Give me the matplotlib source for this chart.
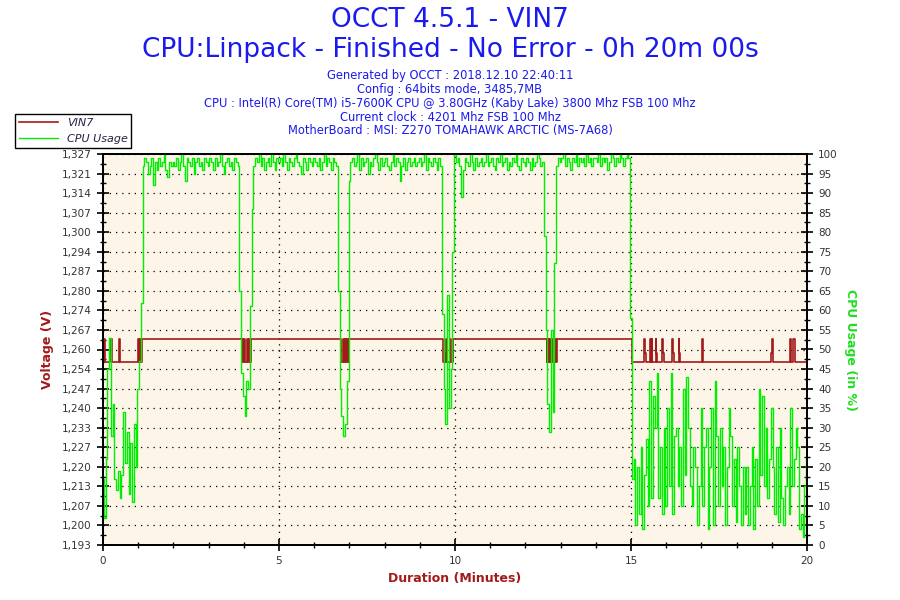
import numpy as np
import matplotlib
matplotlib.use("Agg")
import matplotlib.pyplot as plt
from matplotlib.ticker import MultipleLocator, FixedLocator

# CPU usage (%), one value every 0.05 minute, one row per minute
cpu_rows = [
    [17, 7, 22, 45, 53, 28, 36, 17, 14, 19, 12, 18, 34, 21, 29, 13, 26, 11, 31, 20],
    [40, 47, 62, 97, 99, 98, 95, 97, 99, 92, 98, 96, 99, 97, 98, 100, 96, 94, 98, 97],
    [98, 97, 99, 96, 98, 100, 97, 93, 99, 98, 97, 99, 95, 98, 99, 97, 98, 96, 99, 98],
    [97, 99, 98, 96, 99, 97, 98, 100, 97, 95, 98, 99, 97, 98, 96, 99, 98, 97, 65, 44],
    [38, 33, 42, 40, 61, 86, 97, 99, 98, 100, 97, 99, 96, 98, 99, 97, 100, 98, 96, 99],
    [98, 99, 97, 100, 98, 96, 99, 98, 97, 99, 100, 98, 97, 95, 99, 98, 96, 99, 98, 97],
    [99, 98, 97, 99, 96, 98, 100, 97, 99, 98, 96, 99, 98, 97, 65, 40, 33, 28, 31, 42],
    [93, 98, 99, 97, 98, 100, 96, 99, 97, 98, 99, 95, 98, 97, 99, 100, 98, 96, 99, 97],
    [98, 99, 97, 96, 98, 100, 97, 99, 98, 93, 97, 99, 96, 98, 99, 97, 98, 99, 97, 98],
    [99, 97, 98, 100, 96, 99, 98, 97, 99, 98, 96, 99, 97, 59, 40, 31, 64, 35, 45, 75],
    [100, 98, 99, 97, 89, 96, 99, 98, 97, 100, 98, 96, 99, 97, 98, 99, 97, 98, 100, 97],
    [98, 99, 97, 96, 99, 98, 100, 97, 98, 99, 96, 98, 97, 99, 98, 100, 97, 96, 99, 98],
    [97, 99, 98, 96, 99, 97, 98, 100, 99, 97, 98, 79, 55, 36, 29, 55, 34, 72, 97, 99],
    [98, 99, 100, 97, 99, 98, 96, 99, 98, 100, 97, 99, 98, 99, 97, 100, 98, 99, 97, 99],
    [99, 98, 100, 97, 99, 98, 99, 96, 98, 100, 99, 97, 99, 98, 100, 99, 97, 99, 100, 99],
    [58, 17, 22, 5, 20, 8, 25, 4, 18, 27, 10, 42, 12, 38, 30, 44, 12, 25, 8, 30],
    [10, 35, 15, 44, 8, 28, 30, 15, 25, 10, 40, 18, 43, 30, 15, 10, 25, 20, 5, 15],
    [35, 10, 25, 30, 4, 20, 35, 5, 42, 28, 10, 30, 15, 25, 5, 20, 35, 28, 10, 22],
    [6, 25, 15, 5, 20, 8, 20, 5, 15, 25, 4, 22, 10, 40, 18, 38, 15, 30, 12, 22],
    [35, 20, 8, 25, 6, 30, 12, 5, 15, 20, 8, 35, 15, 22, 30, 25, 4, 8, 2, 15],
]
cpu_last = 22

# VIN7 voltage, change points (minutes, volts), drawn as steps
volt_t = [0.00, 0.02, 0.06, 0.20, 0.25, 0.46, 0.48, 1.00, 1.02, 1.06, 1.08, 1.10,
          3.94, 3.96, 3.98, 4.01, 4.02, 4.10, 4.12, 4.16, 4.17, 4.20,
          6.76, 6.83, 6.84, 6.88, 6.89, 6.93, 6.95, 6.97,
          9.67, 9.71, 9.73, 9.75, 9.76, 9.86, 9.88, 9.93,
          12.60, 12.62, 12.63, 12.66, 12.67, 12.70, 12.72, 12.75, 12.77, 12.80, 12.82, 12.85, 12.86, 12.90,
          15.02, 15.38, 15.40, 15.43, 15.55, 15.57, 15.59, 15.61, 15.70, 15.72, 15.74,
          15.89, 15.91, 15.93, 16.17, 16.19, 16.21, 16.35, 16.37, 16.39,
          17.01, 17.03, 17.05, 18.98, 19.00, 19.03, 19.53, 19.55, 19.61, 19.66, 20.00]
volt_v = [1.256, 1.264, 1.256, 1.264, 1.256, 1.264, 1.256, 1.264, 1.256, 1.264, 1.256, 1.264,
          1.256, 1.264, 1.256, 1.264, 1.256, 1.264, 1.256, 1.264, 1.256, 1.264,
          1.256, 1.264, 1.256, 1.264, 1.256, 1.264, 1.256, 1.264,
          1.256, 1.259, 1.256, 1.264, 1.256, 1.264, 1.256, 1.264,
          1.256, 1.264, 1.256, 1.264, 1.256, 1.264, 1.256, 1.264, 1.256, 1.264, 1.256, 1.264, 1.256, 1.264,
          1.256, 1.264, 1.259, 1.256, 1.264, 1.256, 1.264, 1.256, 1.264, 1.259, 1.256,
          1.264, 1.259, 1.256, 1.264, 1.259, 1.256, 1.264, 1.259, 1.256,
          1.259, 1.264, 1.256, 1.259, 1.264, 1.256, 1.264, 1.256, 1.264, 1.256, 1.256]

volt_labels = ["1,193", "1,200", "1,207", "1,213", "1,220", "1,227", "1,233", "1,240",
               "1,247", "1,254", "1,260", "1,267", "1,274", "1,280", "1,287", "1,294",
               "1,300", "1,307", "1,314", "1,321", "1,327"]
volt_min, volt_max = 1.1933, 1.3273

title1 = "OCCT 4.5.1 - VIN7"
title2 = "CPU:Linpack - Finished - No Error - 0h 20m 00s"
info_lines = ["Generated by OCCT : 2018.12.10 22:40:11",
              "Config : 64bits mode, 3485,7MB",
              "CPU : Intel(R) Core(TM) i5-7600K CPU @ 3.80GHz (Kaby Lake) 3800 Mhz FSB 100 Mhz",
              "Current clock : 4201 Mhz FSB 100 Mhz",
              "MotherBoard : MSI: Z270 TOMAHAWK ARCTIC (MS-7A68)"]

cpu = [v for row in cpu_rows for v in row] + [cpu_last]
cpu_t = np.arange(len(cpu)) * 0.05

red = "#a31a1a"
green = "#00ee00"
blue = "#1a1aee"

fig = plt.figure(figsize=(9, 6), dpi=100)
ax = fig.add_axes([103 / 900, 55 / 600, 704 / 900, 391 / 600])
ax.set_facecolor("#fdf6e8")
ax2 = ax.twinx()

ax.plot(volt_t, volt_v, color=red, lw=1.2, drawstyle="steps-post", label="VIN7")
ax2.plot(cpu_t, cpu, color=green, lw=1.0, drawstyle="steps-mid", label="CPU Usage")

ax.set_xlim(0, 20)
ax.set_ylim(volt_min, volt_max)
ax2.set_ylim(0, 100)

ax.set_yticks(np.linspace(volt_min, volt_max, 21))
ax.set_yticklabels(volt_labels)
ax.yaxis.set_minor_locator(FixedLocator(np.linspace(volt_min, volt_max, 41)))
ax2.yaxis.set_major_locator(MultipleLocator(5))
ax2.yaxis.set_minor_locator(MultipleLocator(2.5))
ax.xaxis.set_major_locator(MultipleLocator(5))
ax.xaxis.set_minor_locator(MultipleLocator(1))

for a in (ax, ax2):
    a.tick_params(which="major", direction="inout", length=9, width=1.2,
                  labelsize=7.5, labelcolor="#333333")
    a.tick_params(which="minor", direction="inout", length=5, width=1)
    for s in a.spines.values():
        s.set_linewidth(1.3)

ax.grid(True, which="major", axis="y", color="black", ls=(0, (1, 4)), lw=0.9)
ax.grid(True, which="major", axis="x", color="black", ls=(0, (1, 4)), lw=0.9)

ax.set_xlabel("Duration (Minutes)", color=red, fontsize=9, fontweight="bold", labelpad=4)
ax.set_ylabel("Voltage (V)", color=red, fontsize=9, fontweight="bold", labelpad=6)
ax2.set_ylabel("CPU Usage (in %)", color="#22dd22", fontsize=9, fontweight="bold",
               rotation=-90, labelpad=14)

fig.text(0.5, 1 - 20 / 600, title1, ha="center", va="center", color=blue, fontsize=19)
fig.text(0.5, 1 - 50 / 600, title2, ha="center", va="center", color=blue, fontsize=19)
for i, line in enumerate(info_lines):
    fig.text(0.5, 1 - (75 + 14 * i) / 600, line, ha="center", va="center",
             color=blue, fontsize=8.3)

h1, l1 = ax.get_legend_handles_labels()
h2, l2 = ax2.get_legend_handles_labels()
leg = fig.legend(h1 + h2, l1 + l2, loc="upper left", bbox_to_anchor=(15 / 900, 1 - 114 / 600),
                 fancybox=False, framealpha=1, edgecolor="black", fontsize=8,
                 borderpad=0.35, labelspacing=0.55, handlelength=3.5, borderaxespad=0)
for t in leg.get_texts():
    t.set_fontstyle("italic")
    t.set_color("#222244")

fig.savefig("out.png", dpi=100)
